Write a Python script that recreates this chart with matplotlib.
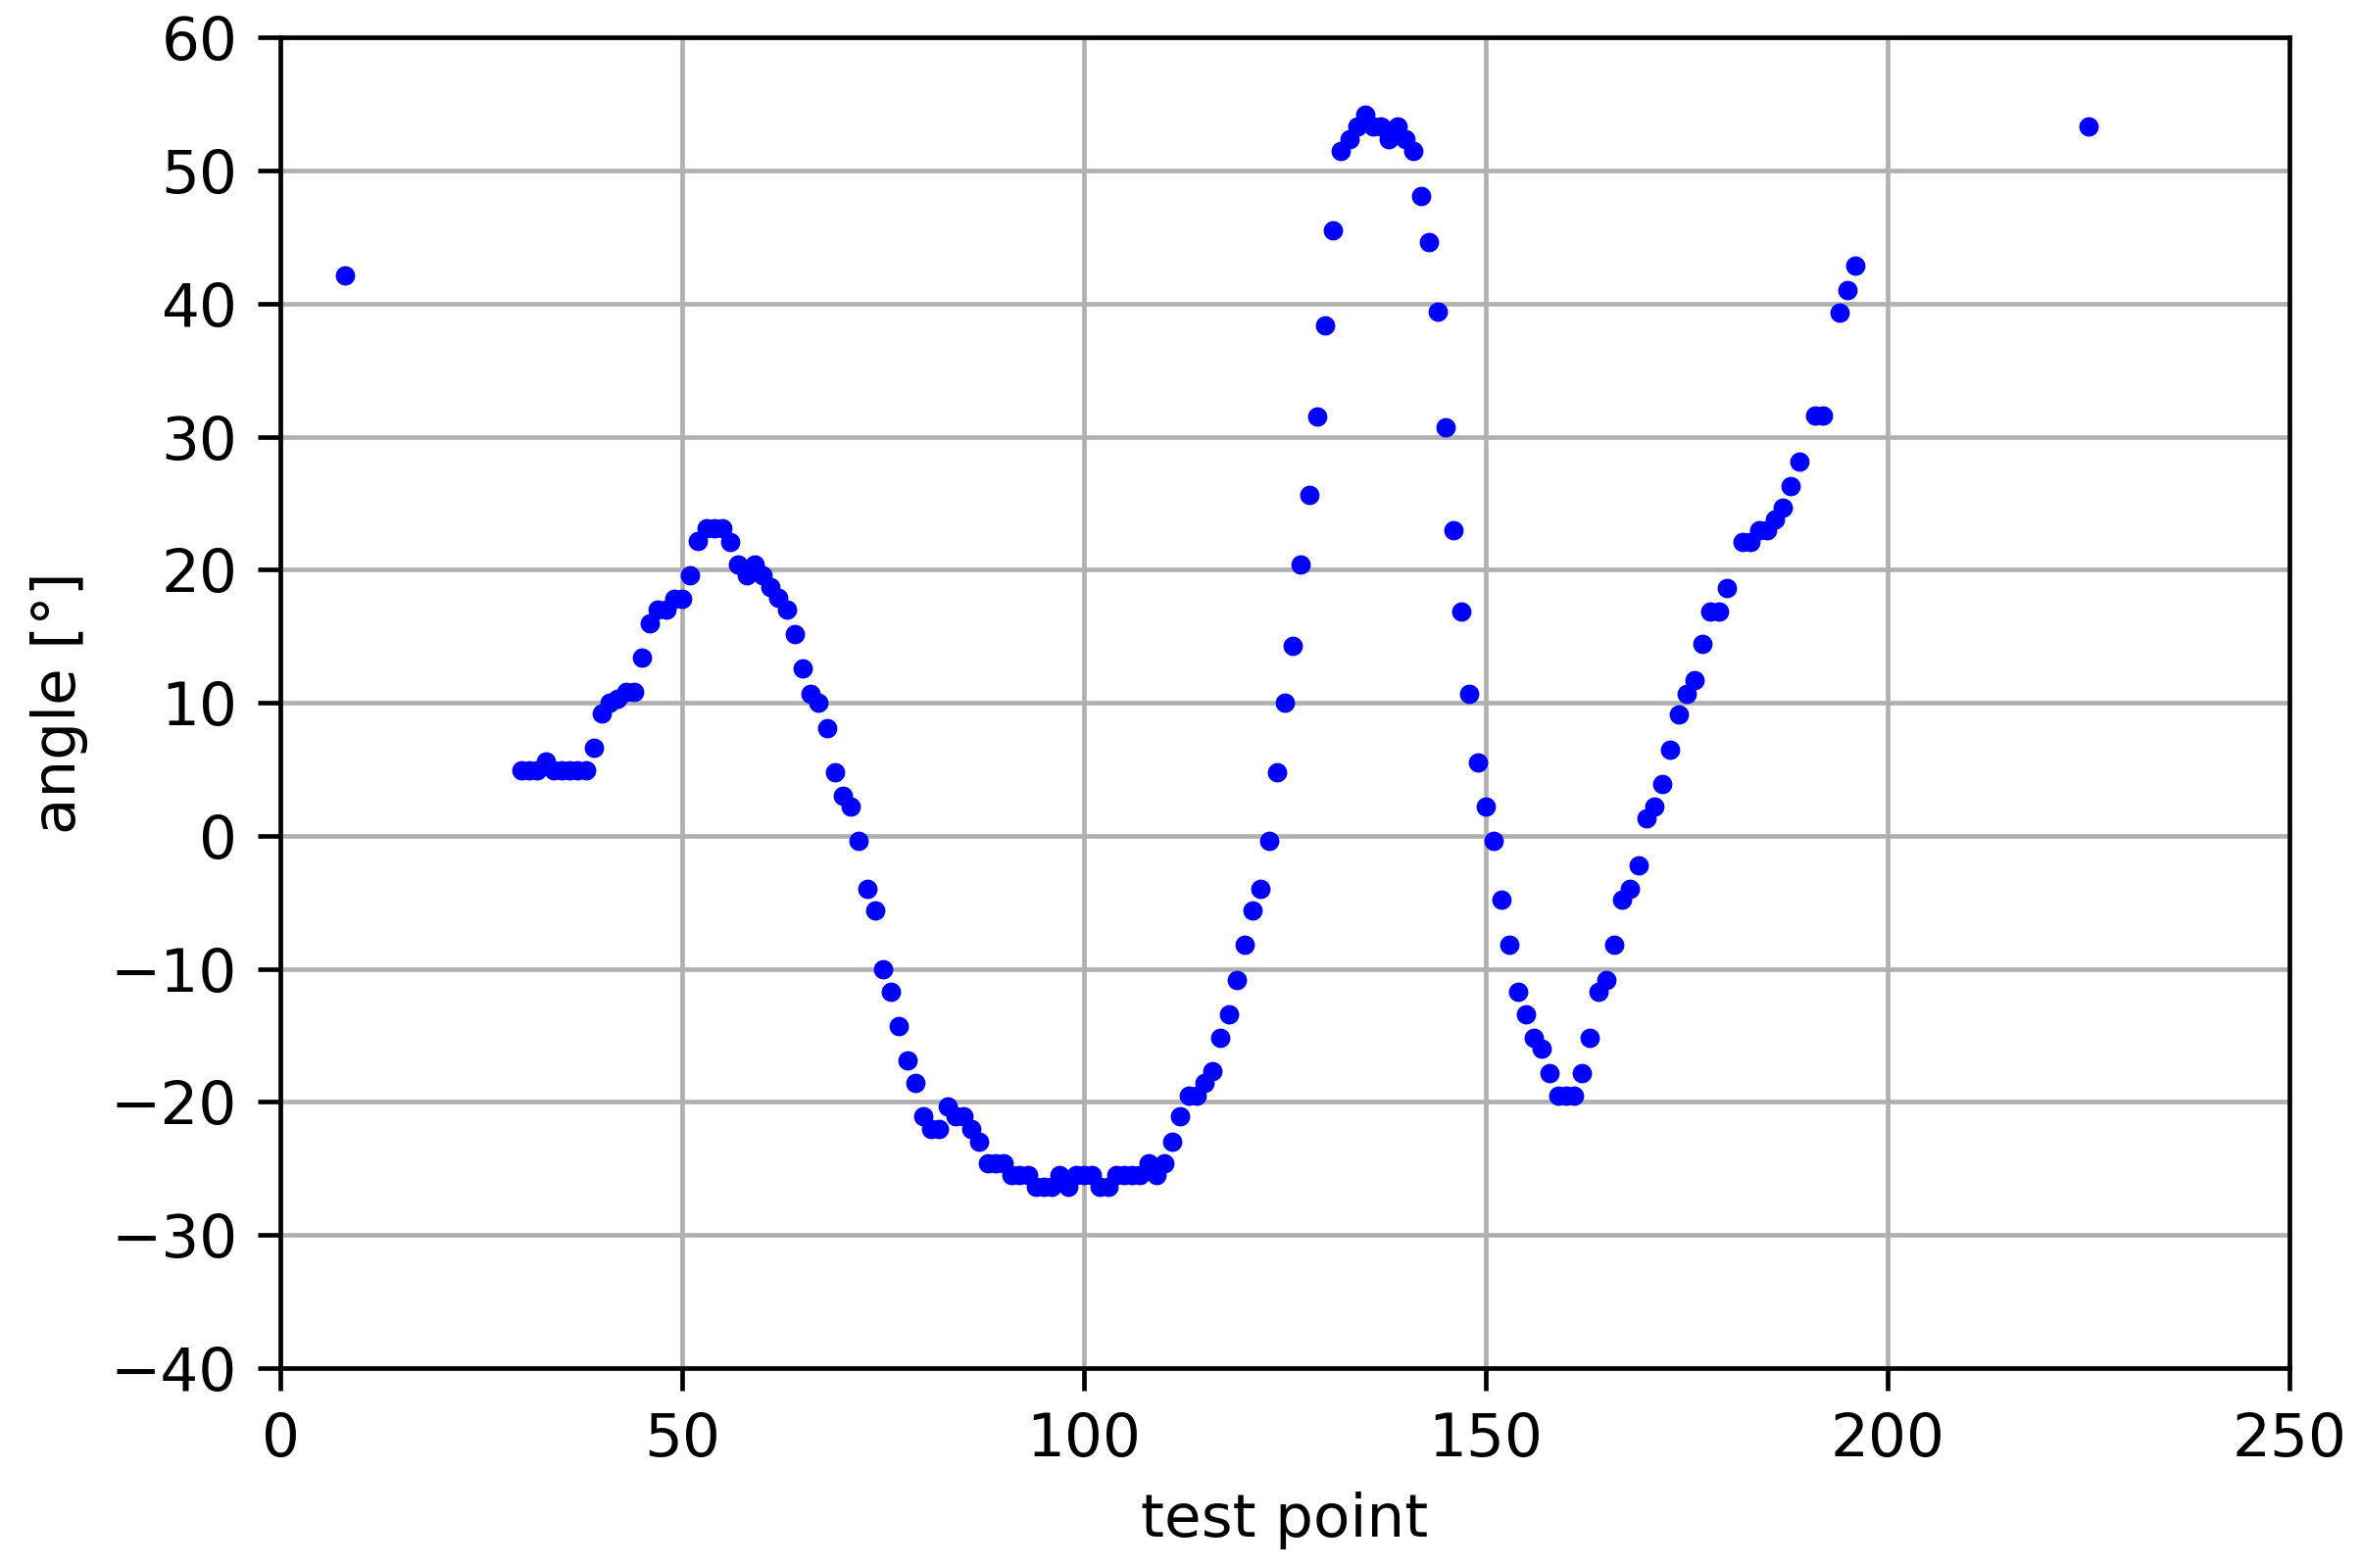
import matplotlib
matplotlib.use("Agg")
import matplotlib.pyplot as plt

test_point = [
    8,
    30, 31, 32, 33, 34, 35, 36, 37, 38, 39,
    40, 41, 42, 43, 44, 45, 46, 47, 48, 49,
    50, 51, 52, 53, 54, 55, 56, 57, 58, 59,
    60, 61, 62, 63, 64, 65, 66, 67, 68, 69,
    70, 71, 72, 73, 74, 75, 76, 77, 78, 79,
    80, 81, 82, 83, 84, 85, 86, 87, 88, 89,
    90, 91, 92, 93, 94, 95, 96, 97, 98, 99,
    100, 101, 102, 103, 104, 105, 106, 107, 108, 109,
    110, 111, 112, 113, 114, 115, 116, 117, 118, 119,
    120, 121, 122, 123, 124, 125, 126, 127, 128, 129,
    130, 131, 132, 133, 134, 135, 136, 137, 138, 139,
    140, 141, 142, 143, 144, 145, 146, 147, 148, 149,
    150, 151, 152, 153, 154, 155, 156, 157, 158, 159,
    160, 161, 162, 163, 164, 165, 166, 167, 168, 169,
    170, 171, 172, 173, 174, 175, 176, 177, 178, 179,
    180, 182, 183, 184, 185, 186, 187, 188, 189,
    191, 192, 194, 195, 196,
    225,
]
angle = [
    42.1,
    4.9, 4.9, 4.9, 5.6, 4.9, 4.9, 4.9, 4.9, 4.9, 6.6,
    9.2, 10.0, 10.3, 10.8, 10.8, 13.4, 16.0, 17.0, 17.0, 17.8,
    17.8, 19.6, 22.2, 23.1, 23.1, 23.1, 22.1, 20.4, 19.6, 20.4,
    19.6, 18.7, 17.9, 17.0, 15.2, 12.6, 10.7, 10.0, 8.1, 4.8,
    3.0, 2.2, -0.4, -4.0, -5.6, -10.0, -11.7, -14.3, -16.9, -18.6,
    -21.1, -22.0, -22.0, -20.3, -21.1, -21.1, -22.0, -23.0, -24.6, -24.6,
    -24.6, -25.5, -25.5, -25.5, -26.4, -26.4, -26.4, -25.5, -26.4, -25.5,
    -25.5, -25.5, -26.4, -26.4, -25.5, -25.5, -25.5, -25.5, -24.6, -25.5,
    -24.6, -23.0, -21.1, -19.5, -19.5, -18.6, -17.7, -15.2, -13.4, -10.8,
    -8.2, -5.6, -4.0, -0.4, 4.8, 10.0, 14.3, 20.4, 25.6, 31.5,
    38.4, 45.5, 51.5, 52.4, 53.3, 54.2, 53.3, 53.3, 52.4, 53.3,
    52.4, 51.5, 48.1, 44.6, 39.4, 30.7, 23.0, 16.9, 10.7, 5.5,
    2.2, -0.4, -4.8, -8.2, -11.7, -13.4, -15.2, -16.0, -17.8, -19.5,
    -19.5, -19.5, -17.8, -15.2, -11.7, -10.8, -8.2, -4.8, -4.0, -2.2,
    1.3, 2.2, 3.9, 6.5, 9.1, 10.7, 11.7, 14.4, 16.9, 16.9,
    18.6, 22.1, 22.1, 23.0, 23.0, 23.8, 24.7, 26.3, 28.1,
    31.6, 31.6, 39.3, 41.0, 42.9,
    53.3,
]

x_ticks = [0, 50, 100, 150, 200, 250]
y_ticks = [-40, -30, -20, -10, 0, 10, 20, 30, 40, 50, 60]

plt.rcParams["font.size"] = 10.5

dpi = 420
fig, ax = plt.subplots(figsize=(2408 / dpi, 1600 / dpi), dpi=dpi)
fig.subplots_adjust(left=0.1188, right=0.970, bottom=0.1275, top=0.976)

ax.plot(test_point, angle, "o", color="blue", markersize=3.4, markeredgewidth=0)

ax.set_xlim(0, 250)
ax.set_ylim(-40, 60)
ax.set_xticks(x_ticks)
ax.set_yticks(y_ticks)
ax.tick_params(length=4)
ax.grid(True)
ax.set_axisbelow(True)
ax.set_xlabel("test point")
ax.set_ylabel("angle [°]")

fig.savefig("out.png", dpi=dpi)
